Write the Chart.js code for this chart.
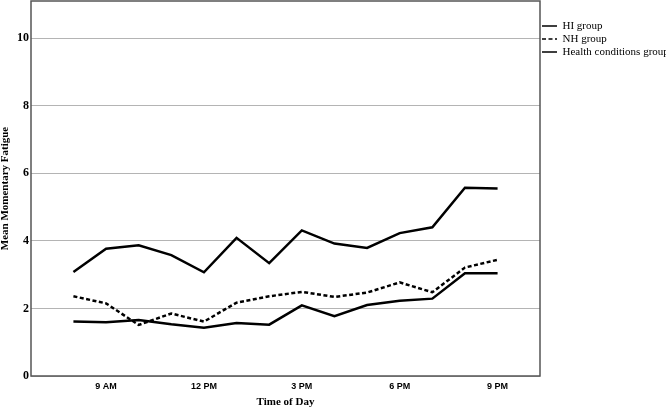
<!DOCTYPE html>
<html>
<head>
<meta charset="utf-8">
<script src="https://cdn.jsdelivr.net/npm/chart.js@4.4.1/dist/chart.umd.min.js"></script>
<style>
	html, body { margin: 0; padding: 0; background: #fff; }
</style>
</head>
<body>
<canvas id="grafico1" width="666" height="410"></canvas>
<script>
	// hora del dia (24h) de cada medicion
	var hours = [8, 9, 10, 11, 12, 13, 14, 15, 16, 17, 18, 19, 20, 21];
	var hiGroup = [3.08, 3.77, 3.87, 3.58, 3.07, 4.09, 3.34, 4.31, 3.92, 3.79, 4.23, 4.40, 5.57, 5.55];
	var nhGroup = [2.36, 2.15, 1.51, 1.85, 1.61, 2.17, 2.36, 2.49, 2.34, 2.47, 2.77, 2.48, 3.21, 3.44];
	var healthGroup = [1.61, 1.59, 1.66, 1.53, 1.43, 1.57, 1.52, 2.09, 1.77, 2.10, 2.23, 2.29, 3.04, 3.04];
	var seriesNames = ['HI group', 'NH group', 'Health conditions group'];
	var tickHours = [9, 12, 15, 18, 21];
	var tickLabels = ['9 AM', '12 PM', '3 PM', '6 PM', '9 PM'];
	var yTicks = [0, 2, 4, 6, 8, 10];

	function puntos(valores) {
		return valores.map(function(v, i) { return {x: hours[i], y: v}; });
	}

	// marco alrededor del area del grafico
	var marcoPlugin = {
		id: 'marco',
		afterDraw: function(chart) {
			var a = chart.chartArea;
			var ctx = chart.ctx;
			ctx.save();
			ctx.strokeStyle = '#555';
			ctx.lineWidth = 1.5;
			ctx.strokeRect(a.left, a.top, a.right - a.left, a.bottom - a.top);
			ctx.restore();
		}
	};

	Chart.defaults.font.family = "'Liberation Serif', 'Times New Roman', serif";
	Chart.defaults.color = '#000';

	const ctx = document.getElementById('grafico1').getContext('2d');
	window.grafica = new Chart(ctx, {
		type: 'line',
		data: {
			datasets: [{
				label: seriesNames[0],
				data: puntos(hiGroup),
				borderColor: '#000',
				borderWidth: 2.5
			}, {
				label: seriesNames[1],
				data: puntos(nhGroup),
				borderColor: '#000',
				borderWidth: 2.5,
				borderDash: [4, 2.5]
			}, {
				label: seriesNames[2],
				data: puntos(healthGroup),
				borderColor: '#000',
				borderWidth: 2.5
			}]
		},
		options: {
			responsive: false,
			animation: false,
			devicePixelRatio: 1,
			elements: {
				point: {radius: 0, hoverRadius: 0},
				line: {tension: 0, fill: false}
			},
			layout: {padding: {top: 1}},
			scales: {
				x: {
					type: 'linear',
					min: 6.7,
					max: 22.3,
					grid: {display: false, drawTicks: false},
					border: {display: false},
					afterBuildTicks: function(axis) {
						axis.ticks = tickHours.map(function(h) { return {value: h}; });
					},
					ticks: {
						padding: 5,
						maxRotation: 0,
						autoSkip: false,
						color: '#000',
						font: {family: "'Liberation Sans', Arial, sans-serif", size: 9, weight: 'bold'},
						callback: function(v) { return tickLabels[tickHours.indexOf(v)]; }
					},
					title: {
						display: true,
						text: 'Time of Day',
						color: '#000',
						font: {size: 11, weight: 'bold'},
						padding: {top: 0, bottom: 1.5}
					},
					afterFit: function(s) {
						s.height = 34;
						s.paddingLeft = 0;
						s.paddingRight = 0;
					}
				},
				y: {
					min: 0,
					max: 11.1,
					grid: {color: '#b4b4b4', lineWidth: 1, drawTicks: false},
					border: {display: false},
					afterBuildTicks: function(axis) {
						axis.ticks = yTicks.map(function(v) { return {value: v}; });
					},
					ticks: {
						padding: 2,
						color: '#000',
						font: {size: 12, weight: 'bold'}
					},
					title: {
						display: true,
						text: 'Mean Momentary Fatigue',
						color: '#000',
						font: {size: 11, weight: 'bold', lineHeight: 1},
						padding: {top: 0, bottom: 0}
					},
					afterFit: function(s) {
						s.width = 31;
						s.paddingTop = 0;
						s.paddingBottom = 0;
					}
				}
			},
			plugins: {
				tooltip: {enabled: false},
				legend: {
					display: true,
					position: 'right',
					align: 'start',
					maxWidth: 126,
					title: {display: true, text: '', font: {size: 11}, padding: {top: 4.3, bottom: 0}},
					labels: {
						boxWidth: 15,
						boxHeight: 0,
						padding: 2,
						color: '#000',
						font: {size: 11},
						generateLabels: function(chart) {
							var items = Chart.defaults.plugins.legend.labels.generateLabels(chart);
							items.forEach(function(it) { it.lineWidth = 1.5; });
							return items;
						}
					}
				}
			}
		},
		plugins: [marcoPlugin]
	});
</script>
</body>
</html>
